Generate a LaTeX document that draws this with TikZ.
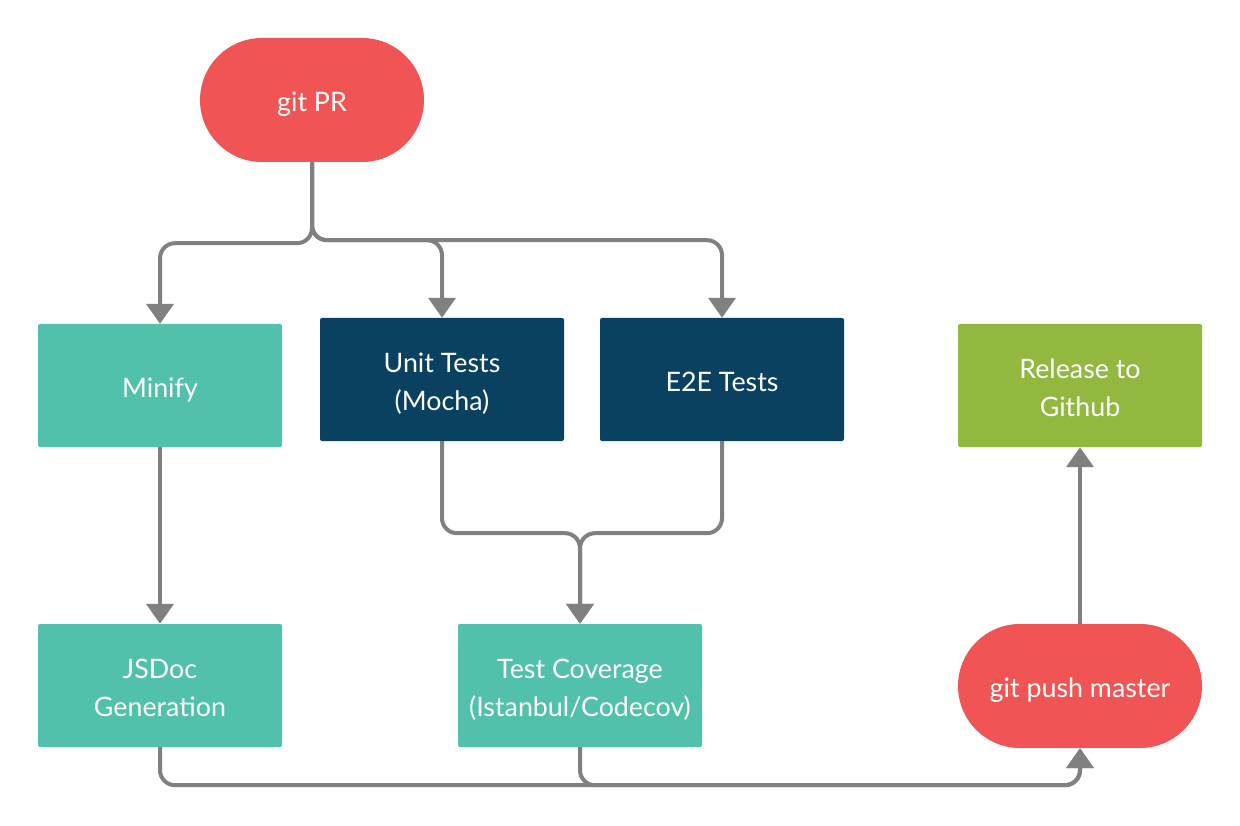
\documentclass[tikz,border=0pt]{standalone}
\usepackage{fontspec}
\setmainfont{Lato}
\usetikzlibrary{arrows.meta}
\definecolor{cred}{HTML}{F05454}
\definecolor{cteal}{HTML}{52C1AB}
\definecolor{cnavy}{HTML}{0A4160}
\definecolor{cgreen}{HTML}{93B840}
\definecolor{cgray}{HTML}{808080}
\newcommand\mystrut{\rule[-7pt]{0pt}{37.5pt}}
\newcommand\mystrutB{\rule[-7pt]{0pt}{75.5pt}}
\begin{document}
\begin{tikzpicture}[x=1pt,y=-1pt,
  box/.style={rectangle, minimum width=244pt, minimum height=123pt, inner sep=0pt,
    text=white, font=\fontsize{26.8}{37.7}\selectfont, align=center, rounded corners=2pt,
    execute at begin node=\mystrut, execute at end node=\mystrut},
  twol/.style={execute at begin node=\mystrutB},
  teal/.style={box, fill=cteal},
  navy/.style={box, fill=cnavy},
  green/.style={box, fill=cgreen},
  term/.style={box, fill=cred, minimum height=124pt, rounded corners=62pt},
  conn/.style={draw=cgray, line width=4pt, rounded corners=15pt},
  arr/.style={conn, -{Triangle[width=27pt,length=20pt]}}]
\useasboundingbox (0,0) rectangle (1240,826);
\node[term, minimum width=224pt] (pr) at (312,100) {git PR};
\node[teal] (minify) at (160,385.5) {Minify};
\node[navy, twol] (unit) at (442,379.5) {Unit Tests\\(Mocha)};
\node[navy] (e2e) at (722,379.5) {E2E Tests};
\node[green, twol] (release) at (1080,385.5) {Release to\\Github};
\node[teal, twol] (jsdoc) at (160,685.5) {JSDoc\\Generation};
\node[teal, twol] (cov) at (580,685.5) {Test Coverage\\(Istanbul/Codecov)};
\node[term] (push) at (1080,686) {git push master};

\draw[arr] (pr.south) -- ++(0,81) -| (minify.north);
\draw[arr] (pr.south) -- ++(0,78) -| (unit.north);
\draw[arr] (pr.south) -- ++(0,78) -| (e2e.north);
\draw[arr] (unit.south) -- ++(0,92) -| (cov.north);
\draw[arr] (e2e.south) -- ++(0,92) -| (cov.north);
\draw[arr] (minify.south) -- (jsdoc.north);
\draw[arr] (jsdoc.south) -- ++(0,38) -| (push.south);
\draw[arr] (cov.south) -- ++(0,38) -| (push.south);
\draw[arr] (push.north) -- (release.south);
\end{tikzpicture}
\end{document}
